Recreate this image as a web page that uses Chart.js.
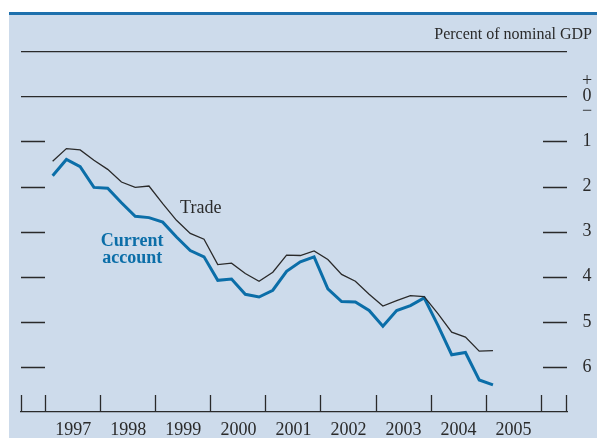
<!DOCTYPE html>
<html>
<head>
<meta charset="utf-8">
<script src="https://cdn.jsdelivr.net/npm/chart.js@4"></script>
<style>
  html, body { margin: 0; padding: 0; background: #ffffff; }
  canvas { display: block; }
</style>
</head>
<body>
<canvas id="balanceChart" width="597" height="438"></canvas>
<script>
// Quarterly observations, 1997:Q1 - 2005:Q1
const quarters = [
    '1997Q1', '1997Q2', '1997Q3', '1997Q4',
    '1998Q1', '1998Q2', '1998Q3', '1998Q4',
    '1999Q1', '1999Q2', '1999Q3', '1999Q4',
    '2000Q1', '2000Q2', '2000Q3', '2000Q4',
    '2001Q1', '2001Q2', '2001Q3', '2001Q4',
    '2002Q1', '2002Q2', '2002Q3', '2002Q4',
    '2003Q1', '2003Q2', '2003Q3', '2003Q4',
    '2004Q1', '2004Q2', '2004Q3', '2004Q4',
    '2005Q1'
];

// Balances, percent of nominal GDP (negative = deficit)
const tradeBalance = [
    -1.44, -1.16, -1.19, -1.42, -1.62, -1.90, -2.02, -1.99,
    -2.38, -2.75, -3.04, -3.17, -3.73, -3.70, -3.93, -4.10,
    -3.90, -3.52, -3.53, -3.43, -3.62, -3.95, -4.10, -4.39,
    -4.65, -4.53, -4.42, -4.44, -4.82, -5.23, -5.34, -5.65,
    -5.64
];
const currentAccount = [
    -1.76, -1.40, -1.56, -2.02, -2.04, -2.36, -2.66, -2.69,
    -2.79, -3.12, -3.42, -3.56, -4.08, -4.05, -4.39, -4.45,
    -4.30, -3.88, -3.67, -3.56, -4.27, -4.55, -4.56, -4.75,
    -5.10, -4.75, -4.64, -4.47, -5.08, -5.73, -5.68, -6.29,
    -6.40
];

const yearTicks = [1997, 1998, 1999, 2000, 2001, 2002, 2003, 2004, 2005, 2006];
const yearLabels = ['1997', '1998', '1999', '2000', '2001', '2002', '2003', '2004', '2005', ''];
const valueTicks = [-7, -6, -5, -4, -3, -2, -1, 0, 1];

const INK = '#2a2a2a';
const CA_BLUE = '#0b6ea8';
const PANEL = '#cddbeb';
const SERIF = '"Liberation Serif", "Times New Roman", serif';

function quarterToX(label) {
    const year = parseInt(label.slice(0, 4));
    const q = parseInt(label.slice(5));
    return year + (q - 0.5) / 4;
}

function toPoints(values) {
    return values.map((v, i) => ({ x: quarterToX(quarters[i]), y: v }));
}

function valueLabel(value) {
    if (value === 0) return ['+', '0', '\u2212'];
    if (value < 0 && value > -7) return String(-value);
    return '';
}

const panelPlugin = {
    id: 'panel',
    beforeDraw(chart) {
        const ctx = chart.ctx;
        ctx.save();
        ctx.fillStyle = '#ffffff';
        ctx.fillRect(0, 0, chart.width, chart.height);
        ctx.fillStyle = PANEL;
        ctx.fillRect(9, 12, chart.width - 9, chart.height - 12);
        ctx.fillStyle = '#1e70ad';
        ctx.fillRect(9, 12, chart.width - 9, 3);
        ctx.restore();
    },
    beforeDatasetsDraw(chart) {
        const ctx = chart.ctx;
        const area = chart.chartArea;
        const xs = chart.scales.x;
        const ys = chart.scales.y;
        ctx.save();
        ctx.strokeStyle = INK;
        ctx.lineWidth = 1.3;
        ctx.beginPath();
        // short value dashes on both sides
        ys.ticks.forEach(t => {
            if (t.value < 0 && t.value > -7) {
                const py = Math.round(ys.getPixelForValue(t.value)) + 0.5;
                ctx.moveTo(area.left, py);
                ctx.lineTo(area.left + 24, py);
                ctx.moveTo(area.right - 24, py);
                ctx.lineTo(area.right, py);
            }
        });
        // year boundary marks rise from the bottom axis
        const marks = xs.ticks.map(t => xs.getPixelForValue(t.value));
        marks.push(area.left + 0.5, area.right - 0.5);
        marks.forEach(px => {
            ctx.moveTo(Math.round(px - 0.5) + 0.5, area.bottom);
            ctx.lineTo(Math.round(px - 0.5) + 0.5, area.bottom - 17);
        });
        ctx.stroke();
        ctx.restore();
    },
    afterDatasetsDraw(chart) {
        const ctx = chart.ctx;
        const xs = chart.scales.x;
        const ys = chart.scales.y;
        ctx.save();
        ctx.textBaseline = 'alphabetic';
        ctx.font = '18px ' + SERIF;
        ctx.fillStyle = INK;
        ctx.textAlign = 'left';
        ctx.fillText('Trade', xs.getPixelForValue(1999.44), ys.getPixelForValue(-2.594));
        ctx.font = 'bold 18px ' + SERIF;
        ctx.fillStyle = CA_BLUE;
        ctx.textAlign = 'center';
        ctx.fillText('Current', xs.getPixelForValue(1998.57), ys.getPixelForValue(-3.325));
        ctx.fillText('account', xs.getPixelForValue(1998.57), ys.getPixelForValue(-3.70));
        ctx.restore();
    }
};

new Chart(document.getElementById('balanceChart'), {
    type: 'line',
    data: {
        datasets: [
            {
                label: 'Trade',
                data: toPoints(tradeBalance),
                borderColor: INK,
                borderWidth: 1.3,
                pointRadius: 0,
                tension: 0,
                fill: false
            },
            {
                label: 'Current account',
                data: toPoints(currentAccount),
                borderColor: CA_BLUE,
                borderWidth: 3,
                pointRadius: 0,
                tension: 0,
                fill: false
            }
        ]
    },
    options: {
        responsive: false,
        animation: false,
        devicePixelRatio: 1,
        layout: { padding: { left: 21, right: 5, top: 0, bottom: 0 } },
        plugins: {
            legend: { display: false },
            tooltip: { enabled: false },
            title: {
                display: true,
                text: 'Percent of nominal GDP',
                align: 'end',
                color: INK,
                font: { family: SERIF, size: 16, weight: 'normal', lineHeight: 1.2 },
                padding: { top: 25, bottom: 7 }
            }
        },
        scales: {
            x: {
                type: 'linear',
                min: 1996.55,
                max: 2006.47,
                afterBuildTicks: axis => {
                    axis.ticks = yearTicks.map(v => ({ value: v }));
                },
                afterFit: axis => { axis.height = 26; },
                grid: { display: false, drawTicks: false },
                border: { display: true, color: INK, width: 1.3 },
                ticks: {
                    color: INK,
                    padding: 9,
                    maxRotation: 0,
                    autoSkip: false,
                    labelOffset: 27.5,
                    font: { family: SERIF, size: 18, lineHeight: 1 },
                    callback: (value, index) => yearLabels[index]
                }
            },
            y: {
                position: 'right',
                min: -7,
                max: 1,
                afterBuildTicks: axis => {
                    axis.ticks = valueTicks.map(v => ({ value: v }));
                },
                afterFit: axis => { axis.width = 25; },
                grid: {
                    drawTicks: false,
                    lineWidth: 1.3,
                    color: ctx => (ctx.tick && (ctx.tick.value === 0 || ctx.tick.value === 1)) ? INK : 'rgba(0,0,0,0)'
                },
                border: { display: false },
                ticks: {
                    color: INK,
                    padding: 15,
                    crossAlign: 'center',
                    autoSkip: false,
                    font: { family: SERIF, size: 18, lineHeight: 0.85 },
                    callback: value => valueLabel(value)
                }
            }
        }
    },
    plugins: [panelPlugin]
});
</script>
</body>
</html>
